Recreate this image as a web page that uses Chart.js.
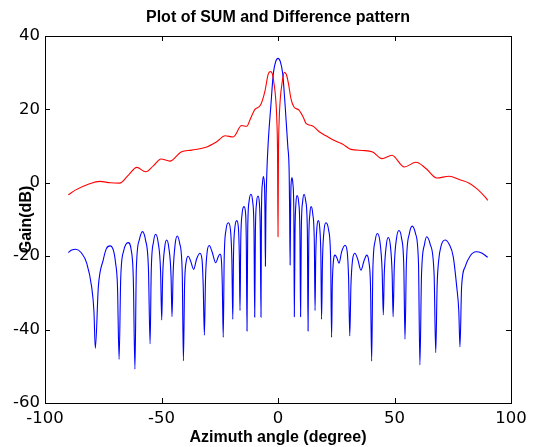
<!DOCTYPE html>
<html>
<head>
<meta charset="utf-8">
<script src="https://cdn.jsdelivr.net/npm/chart.js@4.4.0/dist/chart.umd.min.js"></script>
<style>
    html, body { margin: 0; padding: 0; background: #ffffff; }
</style>
</head>
<body>
<canvas id="myChartPattern" width="536" height="447"></canvas>
<script>
// Sum pattern (blue), angle in degree / gain in dB
const sumAngle = [
    -90, -88.5, -86.8, -84.5, -82.1, -80.0, -79.0, -78.4,
    -77.1, -75.0, -73.7, -72.1, -70.6, -69.7, -68.9, -68.2,
    -67.5, -66.2, -64.3, -63.0, -62.1, -61.4,
    -60.8, -59.5, -58.2, -56.9, -55.6, -54.9,
    -54.4, -53.4, -52.5, -51.5, -50.4, -49.9,
    -49.5, -48.6, -47.8, -46.9, -45.9, -45.5,
    -45.0, -44.1, -43.2, -42.2, -41.1, -40.6,
    -40.1, -39.4, -38.5, -37.5, -36.2, -34.9, -33.5, -32.6, -32.1, -31.6,
    -31.1, -30.4, -29.5, -28.3, -26.7, -25.7, -24.9, -24.2, -23.9, -23.5,
    -23.1, -22.3, -21.3, -20.4, -19.8, -19.4,
    -19.1, -18.5, -17.7, -17.0, -16.6, -16.3,
    -16.0, -15.4, -14.6, -13.9, -13.6, -13.3,
    -13.0, -12.4, -11.6, -10.9, -10.3, -10.0,
    -9.7, -9.2, -8.6, -8.0, -7.6, -7.3,
    -7.1, -6.7, -6.3, -5.8, -5.6, -5.4,
    -5.2, -4.8, -4.2, -3.1, -2.0, -1.0, 0.0, 1.0, 2.0, 3.1, 4.2, 4.8, 5.0, 5.2,
    5.4, 5.6, 6.0, 6.4, 6.8, 7.0,
    7.3, 7.7, 8.2, 8.9, 9.4, 9.7,
    10.0, 10.6, 11.2, 11.9, 12.6, 12.9,
    13.2, 13.7, 14.2, 14.9, 15.6, 15.9,
    16.2, 16.7, 17.3, 17.9, 18.4, 18.7,
    19.1, 19.8, 20.6, 21.7, 22.6, 23.0,
    23.3, 23.7, 24.5, 25.3, 26.2, 27.3, 28.8, 29.7, 30.3, 30.8,
    31.3, 32.0, 33.0, 34.2, 35.6, 36.9, 38.1, 39.0, 39.7, 40.2,
    40.7, 41.7, 42.6, 43.7, 44.7, 45.2,
    45.6, 46.5, 47.3, 48.2, 49.0, 49.4,
    49.9, 50.9, 51.9, 53.0, 54.0, 54.5,
    55.1, 56.4, 57.6, 59.0, 60.3, 60.9,
    61.6, 62.9, 63.8, 65.3, 67.0, 67.7,
    68.3, 68.9, 70.0, 71.7, 73.5, 75.2, 76.7, 77.6, 78.1,
    78.8, 80.3, 82.4, 85.0, 87.4, 90.0
];
const sumGain = [
    -19.0, -18.3, -18.1, -19.0, -21.9, -28.3, -35.0, -45.1,
    -28.3, -21.0, -18.0, -17.2, -18.5, -21.9, -28.0, -48.1,
    -26.0, -18.5, -16.3, -18.3, -26.0, -50.8,
    -23.5, -15.5, -13.3, -15.5, -23.5, -43.9,
    -24.0, -16.0, -14.0, -16.0, -24.0, -37.4,
    -25.5, -17.5, -15.6, -17.5, -25.5, -36.5,
    -24.5, -16.5, -14.5, -16.5, -24.5, -48.5,
    -28.0, -21.5, -20.0, -21.3, -23.6, -20.7, -19.2, -21.0, -28.0, -41.5,
    -26.0, -18.8, -17.1, -18.8, -21.8, -20.2, -19.4, -22.0, -28.0, -42.1,
    -21.0, -12.8, -10.9, -12.8, -21.0, -37.2,
    -20.0, -12.2, -10.3, -12.2, -20.0, -34.8,
    -16.5, -8.4, -6.5, -8.4, -16.5, -40.4,
    -13.0, -5.0, -3.1, -5.0, -13.0, -36.6,
    -13.5, -5.5, -3.6, -5.5, -13.5, -36.6,
    -8.0, -0.3, 1.7, -0.5, -8.0, -22.7,
    -8.3, 2.6, 11.0, 20.7, 29.8, 33.0, 33.9, 33.0, 29.8, 20.7, 10.0, 2.6, -8.3, -22.4,
    -8.0, -0.5, 1.4, -0.3, -8.0, -36.5,
    -13.5, -5.5, -3.5, -5.5, -13.5, -36.5,
    -13.0, -5.0, -3.1, -5.0, -13.0, -40.4,
    -16.5, -8.4, -6.5, -8.4, -16.5, -34.8,
    -20.0, -12.2, -10.3, -12.2, -20.0, -37.2,
    -21.0, -12.8, -10.9, -12.8, -21.0, -42.1,
    -28.0, -22.0, -19.7, -20.5, -21.9, -18.8, -17.0, -18.8, -26.0, -41.7,
    -28.0, -21.0, -19.2, -20.8, -23.8, -21.3, -19.7, -21.5, -28.0, -48.6,
    -24.0, -15.8, -13.8, -15.8, -24.0, -36.0,
    -25.0, -16.9, -14.9, -16.9, -25.0, -36.5,
    -23.0, -15.0, -13.0, -15.0, -23.0, -42.6,
    -22.0, -13.8, -11.8, -13.8, -22.0, -49.6,
    -25.0, -16.7, -14.7, -16.7, -25.0, -46.3,
    -28.0, -21.5, -17.2, -15.6, -16.8, -20.1, -28.3, -35.0, -44.7,
    -28.3, -22.9, -20.0, -18.8, -19.1, -20.3
];

// Difference pattern (red)
const diffAngle = [
    -90, -87.0, -81.4, -76.4, -72.0, -68.0, -64.2, -60.6, -56.8, -53.5,
    -50.2, -46.4, -41.6, -37.0, -31.3, -26.3, -22.7, -19.2, -15.6, -13.4,
    -12.0, -9.9, -7.5, -5.6, -4.2, -3.3, -2.5, -1.7, -1.0, -0.5, -0.2,
    0.0,
    0.2, 0.5, 1.0, 1.7, 2.7, 3.6, 4.5, 5.6, 6.8, 9.0, 10.9, 12.0,
    14.9, 17.7, 20.6, 24.2, 27.8, 31.3, 36.3, 40.6, 44.6, 48.9,
    54.2, 59.2, 63.5, 68.1, 73.5, 77.8, 82.1, 85.7, 89.3, 90.0
];
const diffGain = [
    -3.3, -2.0, -0.4, 0.4, 0.0, -0.1, 2.1, 4.2, 3.0, 4.6,
    6.5, 5.9, 8.4, 8.9, 9.6, 11.2, 12.8, 12.5, 15.6, 15.4,
    17.2, 20.0, 21.2, 25.0, 29.6, 30.3, 29.8, 27.0, 23.0, 17.0, 8.0,
    -14.7,
    8.0, 17.0, 23.0, 27.0, 30.1, 29.5, 27.0, 22.8, 20.7, 19.8, 17.8, 16.2,
    15.5, 13.9, 12.8, 11.5, 10.5, 9.1, 8.8, 8.4, 6.6, 7.5,
    4.3, 5.6, 3.9, 1.3, 1.8, 0.9, -0.1, -1.8, -4.2, -4.8
];

const xTicks = [-100, -50, 0, 50, 100];
const yTicks = [-60, -40, -20, 0, 20, 40];

let myChartPattern = undefined;

function toPoints(xs, ys) {
    return xs.map((x, i) => ({x: x, y: ys[i]}));
}

// MATLAB style box: top/right edge and inward ticks on all sides
const boxPlugin = {
    id: 'boxPlugin',
    afterDraw(chart) {
        const ctx = chart.ctx;
        const a = chart.chartArea;
        const sx = chart.scales.x;
        const sy = chart.scales.y;
        const len = 5;
        ctx.save();
        ctx.strokeStyle = '#000000';
        ctx.lineWidth = 1;
        ctx.beginPath();
        ctx.rect(Math.round(a.left) + 0.5, Math.round(a.top) + 0.5,
            Math.round(a.right - a.left), Math.round(a.bottom - a.top));
        xTicks.forEach((v) => {
            const px = Math.round(sx.getPixelForValue(v)) + 0.5;
            ctx.moveTo(px, a.bottom);
            ctx.lineTo(px, a.bottom - len);
            ctx.moveTo(px, a.top);
            ctx.lineTo(px, a.top + len);
        });
        yTicks.forEach((v) => {
            const py = Math.round(sy.getPixelForValue(v)) + 0.5;
            ctx.moveTo(a.left, py);
            ctx.lineTo(a.left + len, py);
            ctx.moveTo(a.right, py);
            ctx.lineTo(a.right - len, py);
        });
        ctx.stroke();
        ctx.restore();
    }
};

plotPattern();

function plotPattern() {
    const ctx = document.getElementById("myChartPattern");
    const tickFont = {family: "'DejaVu Sans', sans-serif", size: 16.5};
    const labelFont = {family: "'Liberation Sans', Arial, sans-serif", size: 16, weight: 'bold'};

    myChartPattern = new Chart(ctx, {
        type: 'scatter',
        data: {
            datasets: [{
                label: 'Difference',
                data: toPoints(diffAngle, diffGain),
                showLine: true,
                borderColor: '#ff0000',
                borderWidth: 1.1,
                pointRadius: 0,
                cubicInterpolationMode: 'monotone',
                order: 0
            }, {
                label: 'SUM',
                data: toPoints(sumAngle, sumGain),
                showLine: true,
                borderColor: '#0000ff',
                borderWidth: 1.1,
                pointRadius: 0,
                cubicInterpolationMode: 'monotone',
                order: 1
            }]
        },
        options: {
            responsive: false,
            animation: false,
            layout: {
                padding: {left: 0, right: 25, top: 0, bottom: 0}
            },
            plugins: {
                legend: {display: false},
                tooltip: {enabled: false},
                title: {
                    display: true,
                    fullSize: false,
                    text: 'Plot of SUM and Difference pattern',
                    color: '#000000',
                    font: labelFont,
                    padding: {top: 8, bottom: 8.8}
                }
            },
            scales: {
                x: {
                    type: 'linear',
                    min: -100,
                    max: 100,
                    afterBuildTicks: (scale) => {
                        scale.ticks = xTicks.map((v) => ({value: v}));
                    },
                    afterFit: (scale) => {
                        scale.height = 44;
                    },
                    grid: {display: false, drawTicks: false},
                    border: {display: true, color: '#000000', width: 1},
                    ticks: {color: '#000000', font: tickFont, padding: 6, maxRotation: 0},
                    title: {
                        display: true,
                        text: 'Azimuth angle (degree)',
                        color: '#000000',
                        font: labelFont,
                        padding: {top: 0, bottom: 0}
                    }
                },
                y: {
                    type: 'linear',
                    min: -60,
                    max: 40,
                    afterBuildTicks: (scale) => {
                        scale.ticks = yTicks.map((v) => ({value: v}));
                    },
                    afterFit: (scale) => {
                        scale.width = 45;
                    },
                    grid: {display: false, drawTicks: false},
                    border: {display: true, color: '#000000', width: 1},
                    ticks: {color: '#000000', font: tickFont, padding: 5},
                    title: {
                        display: true,
                        text: 'Gain(dB)',
                        color: '#000000',
                        font: labelFont,
                        padding: {top: 17, bottom: 0}
                    }
                }
            }
        },
        plugins: [boxPlugin]
    });
}
</script>
</body>
</html>
